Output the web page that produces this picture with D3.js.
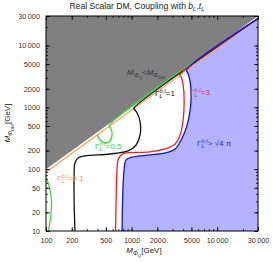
<!DOCTYPE html>
<html>
<head>
<meta charset="utf-8">
<script src="https://cdn.jsdelivr.net/npm/d3@7"></script>
<style>
  body { margin: 0; background: #fff; }
  text { font-family: "Liberation Sans", Arial, sans-serif; }
</style>
</head>
<body>
<svg id="chart" width="274" height="263"></svg>
<script>
// tick values
var xTicks = [100, 200, 500, 1000, 2000, 5000, 10000, 30000];
var yTicks = [10, 20, 50, 100, 200, 500, 1000, 2000, 5000, 10000, 30000];

// contours, [M_PhiQ, M_PhiDM] in GeV
var orangeCurve = [[100, 90], [30000, 27270]];
var greenLow = [[100, 72], [108, 55.5], [116, 31.8], [114, 18.2], [107, 10]];
var greenUp = [[395, 359], [428, 297], [490, 265], [561, 286], [591, 357], [576, 447], [546, 496], [30000, 27270]];
var blackCurve = [[218, 10], [213, 31.8], [213, 80.5], [218, 126], [237, 152], [286, 164], [561, 176], [910, 197],
  [1129, 246], [1257, 357], [1257, 580], [1160, 811], [1070, 942], [1060, 964], [30000, 27270]];
var redCurve = [[650, 10], [659, 31.8], [676, 97], [695, 141], [754, 170], [862, 183], [1646, 190], [2465, 212],
  [3226, 256], [3690, 357], [4003, 625], [4113, 1318], [4003, 2303], [3794, 3104], [3650, 3318], [30000, 27270]];
var blueCurve = [[774, 10], [785, 31.8], [817, 97], [862, 141], [1013, 157], [1646, 170], [2465, 183], [3226, 212],
  [3897, 320], [4457, 519], [4833, 908], [4966, 1588], [4833, 2577], [4580, 3470], [4400, 4000], [30000, 27270]];
var grayRegion = [[100, 100], [30000, 30000], [100, 30000]];

var svg = d3.select("#chart");
var x = d3.scaleLog().domain([100, 30000]).range([46, 258]);
var y = d3.scaleLog().domain([10, 30000]).range([231, 16]);

svg.append("clipPath").attr("id", "clip")
  .append("rect").attr("x", 46).attr("y", 16).attr("width", 212).attr("height", 215);

var plot = svg.append("g").attr("clip-path", "url(#clip)");

var line = d3.line()
  .x(function (d) { return x(d[0]); })
  .y(function (d) { return y(d[1]); })
  .curve(d3.curveCatmullRom.alpha(0.5));

// excluded region M_Q < M_DM
plot.append("path")
  .attr("d", d3.line().x(function (d) { return x(d[0]); }).y(function (d) { return y(d[1]); })(grayRegion) + "Z")
  .attr("fill", "#808080");

// non perturbative region
plot.append("path")
  .attr("d", line(blueCurve) + "L" + x(30000) + "," + y(10) + "Z")
  .attr("fill", "#b3b3ff");

var curves = [
  { pts: orangeCurve, color: "#ffa050" },
  { pts: greenLow, color: "#33e033" },
  { pts: greenUp, color: "#33e033" },
  { pts: blackCurve, color: "#111" },
  { pts: redCurve, color: "#ff1a1a" },
  { pts: blueCurve, color: "#1010ff" }
];
curves.forEach(function (c) {
  plot.append("path")
    .attr("d", line(c.pts))
    .attr("fill", "none")
    .attr("stroke", c.color)
    .attr("stroke-width", 1.3);
});

// minor ticks
var minorX = [], minorY = [];
[100, 1000, 10000].forEach(function (dec) {
  for (var k = 1; k < 10; k++) if (dec * k <= 30000) minorX.push(dec * k);
});
[10, 100, 1000, 10000].forEach(function (dec) {
  for (var k = 1; k < 10; k++) if (dec * k <= 30000) minorY.push(dec * k);
});

var fmt = function (d) { return d >= 10000 ? d3.format(",")(d).replace(",", "\u2009") : d; };

function styleAxis(g) {
  g.select(".domain").remove();
  g.selectAll(".tick line").attr("stroke", "#000").attr("stroke-width", 0.8);
  g.selectAll(".tick text").attr("fill", "#333").style("font-size", "7.3px")
    .style("font-family", "'Liberation Sans', Arial, sans-serif");
}

// bottom
svg.append("g").attr("transform", "translate(0,231)")
  .call(d3.axisBottom(x).tickValues(minorX).tickSize(-2).tickFormat(""))
  .call(styleAxis);
svg.append("g").attr("transform", "translate(0,231)")
  .call(d3.axisBottom(x).tickValues(xTicks).tickSize(-4).tickPadding(7).tickFormat(fmt))
  .call(styleAxis);
// top
svg.append("g").attr("transform", "translate(0,16)")
  .call(d3.axisTop(x).tickValues(minorX).tickSize(-2).tickFormat(""))
  .call(styleAxis);
svg.append("g").attr("transform", "translate(0,16)")
  .call(d3.axisTop(x).tickValues(xTicks).tickSize(-4).tickFormat(""))
  .call(styleAxis);
// left
svg.append("g").attr("transform", "translate(46,0)")
  .call(d3.axisLeft(y).tickValues(minorY).tickSize(-2).tickFormat(""))
  .call(styleAxis);
svg.append("g").attr("transform", "translate(46,0)")
  .call(d3.axisLeft(y).tickValues(yTicks).tickSize(-4).tickPadding(6).tickFormat(fmt))
  .call(styleAxis);
// right
svg.append("g").attr("transform", "translate(258,0)")
  .call(d3.axisRight(y).tickValues(minorY).tickSize(-2).tickFormat(""))
  .call(styleAxis);
svg.append("g").attr("transform", "translate(258,0)")
  .call(d3.axisRight(y).tickValues(yTicks).tickSize(-4).tickFormat(""))
  .call(styleAxis);

svg.append("rect").attr("x", 46).attr("y", 16).attr("width", 212).attr("height", 215)
  .attr("fill", "none").attr("stroke", "#000").attr("stroke-width", 1);

// rich text helper: parts = [text, shift, scale, italic, stackBack]
function rich(parent, px, py, size, color, parts, anchor) {
  var t = parent.append("text").attr("x", px).attr("y", py)
    .attr("fill", color).style("font-size", size + "px")
    .attr("text-anchor", anchor || "start");
  var cur = 0, lastLen = 0;
  parts.forEach(function (p) {
    var s = t.append("tspan").text(p[0])
      .attr("dy", (p[1] - cur) * size)
      .style("font-size", (size * p[2]) + "px")
      .style("font-style", p[3] ? "italic" : "normal");
    cur = p[1];
    if (p[4]) {
      s.attr("dx", -lastLen);
      var len = s.node().getComputedTextLength();
      s.attr("data-pad", lastLen - len);
    }
    var pad = +s.attr("data-pad") || 0;
    lastLen = s.node().getComputedTextLength();
    if (pad > 0) {
      s.attr("data-next", pad);
    }
  });
  // fix gaps after stacked scripts
  var spans = t.selectAll("tspan").nodes();
  spans.forEach(function (n, i) {
    var nx = n.getAttribute("data-next");
    if (nx && spans[i + 1]) spans[i + 1].setAttribute("dx", nx);
  });
  return t;
}

function gammaLabel(parent, px, py, color, tail) {
  return rich(parent, px, py, 8, color, [
    ["\u0393", 0, 1, false],
    ["b,t", -0.42, 0.72, true],
    ["L", 0.3, 0.72, true, true],
    [tail, 0, 1, false]
  ]);
}

// title
rich(svg, 137, 9, 8.6, "#222", [
  ["Real Scalar DM, Coupling with ", 0, 1, false],
  ["b", 0, 1, true], ["L", 0.25, 0.7, true],
  [",", 0, 1, false],
  ["t", 0, 1, true], ["L", 0.25, 0.7, true]
], "middle");

// axis titles
rich(svg, 144, 253, 8, "#222", [
  ["M", 0, 1, true], ["\u03a6", 0.28, 0.72, true], ["Q", 0.5, 0.55, false], ["[GeV]", 0, 1, false]
], "middle");
rich(svg.append("g").attr("transform", "translate(10,123) rotate(-90)"), 0, 0, 8, "#222", [
  ["M", 0, 1, true], ["\u03a6", 0.28, 0.72, true], ["DM", 0.5, 0.55, false], ["[GeV]", 0, 1, false]
], "middle");

// region label
rich(svg, 146, 75, 8, "#333", [
  ["M", 0, 1, true], ["\u03a6", 0.28, 0.72, true], ["Q", 0.5, 0.55, false],
  ["<", 0, 1, false],
  ["M", 0, 1, true], ["\u03a6", 0.28, 0.72, true], ["DM", 0.5, 0.55, false]
], "middle");

gammaLabel(svg, 155, 96, "#111", "=1");
gammaLabel(svg, 190, 95, "#e8303a", "=3");
gammaLabel(svg, 197, 146, "#2a2af0", "> \u221a4 \u03c0");
gammaLabel(svg, 95, 149, "#33d633", "=0.5");
gammaLabel(svg, 57, 181, "#ff9a40", "=0.1");
</script>
</body>
</html>
